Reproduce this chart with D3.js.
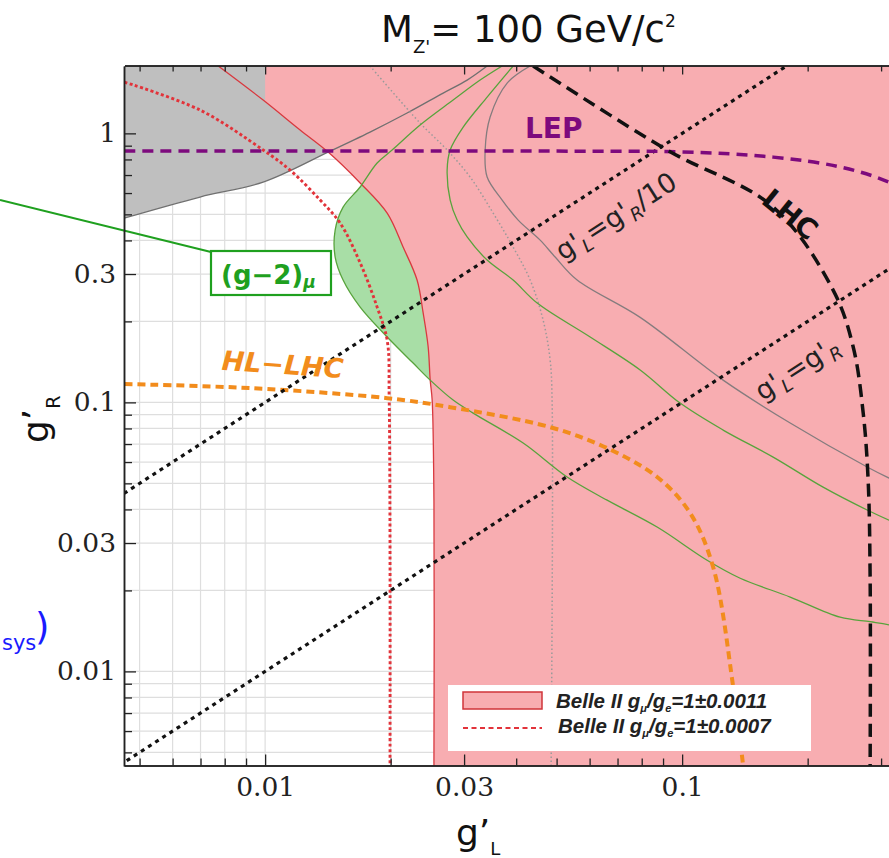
<!DOCTYPE html>
<html>
<head>
<meta charset="utf-8">
<script src="https://cdn.jsdelivr.net/npm/d3@7"></script>
<style>
  body { margin: 0; background: #fff; }
  svg { display: block; }
</style>
</head>
<body>
<script>
// values, points are [g'_L, g'_R]
const xDomain = [0.0046, 0.316];
const yDomain = [0.00445, 1.78];

const xTicks = [0.01, 0.03, 0.1];
const xTickLabels = ["0.01", "0.03", "0.1"];
const xMinor = [0.005, 0.006, 0.007, 0.008, 0.009, 0.02, 0.04, 0.05, 0.06, 0.07, 0.08, 0.09, 0.2, 0.3];
const yTicks = [0.01, 0.03, 0.1, 0.3, 1];
const yTickLabels = ["0.01", "0.03", "0.1", "0.3", "1"];
const yMinor = [0.005, 0.006, 0.007, 0.008, 0.009, 0.02, 0.04, 0.05, 0.06, 0.07, 0.08, 0.09,
                0.2, 0.4, 0.5, 0.6, 0.7, 0.8, 0.9];

// Belle II g_mu/g_e = 1 +- 0.0011 (edge of the pink region)
const belle11 = [[0.00772,1.78],[0.00989,1.33],[0.01213,1.029],[0.01416,0.852],[0.0169,0.654],
  [0.01962,0.505],[0.02142,0.378],[0.02314,0.285],[0.02393,0.215],[0.0246,0.161],[0.02488,0.121],
  [0.02515,0.102],[0.0254,0.043],[0.0254,0.00445]];
// Belle II g_mu/g_e = 1 +- 0.0007
const belle07 = [[0.0046,1.55],[0.00698,1.221],[0.00989,0.867],[0.01148,0.73],[0.01355,0.565],
  [0.01513,0.464],[0.0169,0.33],[0.01856,0.226],[0.01962,0.17],[0.01984,0.102],[0.01993,0.00445]];
// grey excluded region, lower edge
const greyEdge = [[0.00459,0.484],[0.00698,0.58],[0.00989,0.659],[0.01416,0.852],[0.01785,1.011],
  [0.0219,1.19],[0.02673,1.412],[0.03051,1.578],[0.03407,1.78]];
const greyCurve = [[0.04321,1.78],[0.03805,1.538],[0.03464,1.15],[0.0337,0.867],[0.03407,0.688],
  [0.03702,0.565],[0.04044,0.476],[0.04566,0.401],[0.0496,0.347],[0.056,0.285],[0.07931,0.207],
  [0.1254,0.121],[0.1816,0.0838],[0.2778,0.0575],[0.3135,0.0523],[0.4393,0.0415]];
const greyDotted = [[0.01785,1.78],[0.02353,1.092],[0.02732,0.867],[0.03102,0.688],[0.03523,0.505],
  [0.03933,0.378],[0.04321,0.285],[0.04642,0.202],[0.04824,0.144],[0.04877,0.102],[0.04851,0.00445]];
// (g-2)_mu band
const g2Outer = [[0.03702,1.78],[0.03278,1.578],[0.02824,1.33],[0.02353,1.074],[0.02016,0.867],
  [0.01856,0.776],[0.0169,0.632],[0.01538,0.532],[0.01472,0.437],[0.01472,0.347],[0.01538,0.285],
  [0.0169,0.226],[0.01962,0.175],[0.02264,0.14],[0.02488,0.121],[0.02824,0.102],[0.03154,0.0912],
  [0.04157,0.0706],[0.05299,0.0528],[0.06609,0.0433],[0.0871,0.0344],[0.1148,0.0259],[0.1378,0.0222],
  [0.1816,0.0189],[0.2393,0.0159],[0.2824,0.0153],[0.3135,0.0149],[0.4393,0.0131]];
const g2Inner = [[0.03933,1.78],[0.03407,1.364],[0.02985,1.055],[0.02778,0.867],[0.02732,0.73],
  [0.02778,0.565],[0.02887,0.476],[0.03051,0.412],[0.03407,0.338],[0.03933,0.285],[0.04491,0.234],
  [0.06018,0.175],[0.07931,0.132],[0.0989,0.0994],[0.1254,0.0789],[0.1653,0.0626],[0.2178,0.0484],
  [0.2778,0.0398],[0.3135,0.0365],[0.4393,0.0295]];
const lep = [[0.0046,0.859],[0.05,0.859],[0.1,0.853],[0.1653,0.816],[0.2393,0.75],[0.3135,0.659],[0.44,0.5]];
const lhc = [[0.04393,1.78],[0.09204,0.867],[0.1653,0.532],[0.2302,0.2615],[0.2571,0.161],
  [0.2718,0.0912],[0.2793,0.0514],[0.2824,0.0222],[0.2824,0.00445]];
const hlLhc = [[0.0046,0.117],[0.00921,0.113],[0.01962,0.1037],[0.02778,0.096],[0.04824,0.0809],
  [0.06609,0.0676],[0.0871,0.0528],[0.1045,0.0388],[0.1187,0.0244],[0.1326,0.00874],[0.1401,0.00445]];
const diagEqual = [[0.001,0.001],[1,1]];
const diagTenth = [[0.0001,0.001],[0.3,3]];

const W = 889, H = 858;
const x = d3.scaleLog().domain(xDomain).range([124.5, 890.5]);
const y = d3.scaleLog().domain(yDomain).range([766, 66]);
const [x0, x1] = x.range(), [y0, y1] = y.range();

const curve = d3.line().x(d => x(d[0])).y(d => y(d[1])).curve(d3.curveCatmullRom.alpha(0.5));
const straight = d3.line().x(d => x(d[0])).y(d => y(d[1]));

const svg = d3.select("body").append("svg").attr("width", W).attr("height", H);
const defs = svg.append("defs");
defs.append("clipPath").attr("id", "plotClip").append("rect")
  .attr("x", x0).attr("y", y1).attr("width", x1 - x0).attr("height", y0 - y1);
defs.append("clipPath").attr("id", "belleClip").append("rect")
  .attr("x", x(0.01)).attr("y", y1).attr("width", x1 - x(0.01)).attr("height", y0 - y1);

const plot = svg.append("g").attr("clip-path", "url(#plotClip)");

// grid
plot.append("g").selectAll("line").data(xTicks.concat(xMinor)).join("line")
  .attr("x1", d => x(d)).attr("x2", d => x(d)).attr("y1", y0).attr("y2", y1)
  .attr("stroke", "#dedede").attr("stroke-width", 1.2);
plot.append("g").selectAll("line").data(yTicks.concat(yMinor)).join("line")
  .attr("y1", d => y(d)).attr("y2", d => y(d)).attr("x1", x0).attr("x2", x1)
  .attr("stroke", "#dedede").attr("stroke-width", 1.2);

// filled regions
plot.append("path")
  .attr("d", curve(g2Outer) + "L" + curve(g2Inner.slice().reverse()).slice(1) + "Z")
  .attr("fill", "#a8dea6");
plot.append("path")
  .attr("d", curve(greyEdge) + `L${x(xDomain[0])},${y(yDomain[1])}Z`)
  .attr("fill", "#bfbfbf");
plot.append("path")
  .attr("clip-path", "url(#belleClip)")
  .attr("d", curve(belle11) + `L${x(xDomain[1])},${y(yDomain[0])}L${x(xDomain[1])},${y(yDomain[1])}Z`)
  .attr("fill", "#f8adb1");

// lines
const drawLine = (data, gen, color, width, dash) => plot.append("path")
  .attr("d", gen(data)).attr("fill", "none").attr("stroke", color)
  .attr("stroke-width", width).attr("stroke-dasharray", dash || null);

drawLine(belle11, curve, "#d8393f", 1.3);
drawLine(greyEdge, curve, "#707070", 1.3);
drawLine(greyCurve, curve, "#857c7e", 1.3);
drawLine(greyDotted, curve, "#9a9a9a", 1.5, "1.5,2.5");
drawLine(g2Outer, curve, "#58a33c", 1.3);
drawLine(g2Inner, curve, "#58a33c", 1.3);
drawLine(belle07, curve, "#e2333a", 2.9, "3,2.5");
drawLine(hlLhc, curve, "#f28c1c", 4, "8,5");
drawLine(diagEqual, straight, "#111", 3.2, "4,4.5");
drawLine(diagTenth, straight, "#111", 3.2, "4,4.5");
drawLine(lep, curve, "#7d0a7d", 3.5, "11,7");
drawLine(lhc, curve, "#111", 3.5, "13,7");

// text with sub/superscripts
function rich(sel, parts) {
  let shift = 0;
  parts.forEach(p => {
    const s = p.shift || 0;
    const t = sel.append("tspan").text(p.t).attr("dy", s - shift);
    if (p.size) t.attr("font-size", p.size);
    if (p.italic) t.attr("font-style", "italic");
    shift = s;
  });
  return sel;
}

// (g-2) box with leader line, drawn before the labels
svg.append("line").attr("x1", 0).attr("y1", 200).attr("x2", 211).attr("y2", 252)
  .attr("stroke", "#1fa01f").attr("stroke-width", 2);
svg.append("rect").attr("x", 211).attr("y", 251).attr("width", 120).attr("height", 44)
  .attr("fill", "#fff").attr("stroke", "#1fa01f").attr("stroke-width", 2.2);

const labels = svg.append("g").attr("font-family", "DejaVu Sans");

rich(labels.append("text").attr("x", 221).attr("y", 284)
  .attr("font-size", 26).attr("font-weight", "bold").attr("fill", "#1fa01f"),
  [{t: "(g\u22122)"}, {t: "\u03bc", size: 17, shift: 4, italic: true}]);

labels.append("text").attr("x", 525).attr("y", 138)
  .attr("font-size", 28).attr("font-weight", "bold").attr("fill", "#7d0a7d").text("LEP");

labels.append("text").attr("transform", "translate(784,222) rotate(39)")
  .attr("text-anchor", "middle").attr("font-size", 28).attr("font-weight", "bold")
  .attr("fill", "#111").text("LHC");

rich(labels.append("text").attr("transform", "translate(621,224) rotate(-32.8)")
  .attr("text-anchor", "middle").attr("font-size", 27).attr("fill", "#222"),
  [{t: "g'"}, {t: "L", size: 18, shift: 6, italic: true}, {t: "=g'"},
   {t: "R", size: 18, shift: 6, italic: true}, {t: "/10"}]);

rich(labels.append("text").attr("transform", "translate(802,376) rotate(-32.8)")
  .attr("text-anchor", "middle").attr("font-size", 27).attr("fill", "#222"),
  [{t: "g'"}, {t: "L", size: 18, shift: 6, italic: true}, {t: "=g'"},
   {t: "R", size: 18, shift: 6, italic: true}]);

labels.append("text").attr("transform", "translate(282,374) rotate(4)")
  .attr("text-anchor", "middle").attr("font-size", 27).attr("font-weight", "bold")
  .attr("font-style", "italic").attr("fill", "#f28c1c").text("HL\u2212LHC");

// cut-off text from the neighbouring panel
svg.append("text").attr("x", 2).attr("y", 650).attr("font-family", "DejaVu Sans")
  .attr("font-size", 21).attr("fill", "#1a1aff").text("sys");
svg.append("text").attr("x", 35).attr("y", 640).attr("font-family", "DejaVu Sans")
  .attr("font-size", 37).attr("fill", "#1a1aff").text(")");

// legend
const leg = svg.append("g");
leg.append("rect").attr("x", 448).attr("y", 685).attr("width", 363).attr("height", 66).attr("fill", "#fff");
leg.append("rect").attr("x", 463).attr("y", 692).attr("width", 79).attr("height", 17)
  .attr("fill", "#f8adb1").attr("stroke", "#d0343a").attr("stroke-width", 1.5);
leg.append("line").attr("x1", 463).attr("x2", 542).attr("y1", 728).attr("y2", 728)
  .attr("stroke", "#e2333a").attr("stroke-width", 2).attr("stroke-dasharray", "5,3.5");
const legendLabels = ["1\u00b10.0011", "1\u00b10.0007"];
legendLabels.forEach((v, i) => {
  rich(leg.append("text").attr("x", 556 + 2 * i).attr("y", 708 + 25 * i)
    .attr("font-family", "Liberation Sans").attr("font-size", 20.5)
    .attr("font-weight", "bold").attr("font-style", "italic").attr("fill", "#222"),
    [{t: "Belle II g"}, {t: "\u03bc", size: 11, shift: 4}, {t: "/g"},
     {t: "e", size: 11, shift: 4}, {t: "=" + v}]);
});

// axes
const styleAxis = g => {
  g.select(".domain").attr("stroke", "#222").attr("stroke-width", 1.5);
  g.selectAll(".tick line").attr("stroke", "#222").attr("stroke-width", 1.3);
  g.selectAll("text").style("font-family", "'DejaVu Serif', serif").attr("font-size", 26.5).attr("fill", "#222");
};
svg.append("g").attr("transform", `translate(${x0 - 0.5},0)`)
  .call(d3.axisLeft(y).tickValues(yTicks).tickSize(-12).tickSizeOuter(0).tickPadding(8)
    .tickFormat((d, i) => yTickLabels[i])).call(styleAxis);
svg.append("g").attr("transform", `translate(${x0 - 0.5},0)`)
  .call(d3.axisLeft(y).tickValues(yMinor).tickSize(-8).tickSizeOuter(0).tickFormat(""))
  .call(styleAxis);
svg.append("g").attr("transform", `translate(0,${y0 - 0.5})`)
  .call(d3.axisBottom(x).tickValues(xTicks).tickSize(-11).tickSizeOuter(0).tickPadding(12)
    .tickFormat((d, i) => xTickLabels[i])).call(styleAxis);
svg.append("g").attr("transform", `translate(0,${y0 - 0.5})`)
  .call(d3.axisBottom(x).tickValues(xMinor).tickSize(-7).tickSizeOuter(0).tickFormat(""))
  .call(styleAxis);
svg.append("g").attr("transform", `translate(0,${y1 - 0.5})`)
  .call(d3.axisTop(x).tickValues(xTicks).tickSize(-9).tickSizeOuter(0).tickFormat(""))
  .call(styleAxis);
svg.append("g").attr("transform", `translate(0,${y1 - 0.5})`)
  .call(d3.axisTop(x).tickValues(xMinor).tickSize(-6).tickSizeOuter(0).tickFormat(""))
  .call(styleAxis);

// titles
rich(svg.append("text").attr("x", 381).attr("y", 42).attr("font-family", "DejaVu Sans")
  .attr("font-size", 37).attr("fill", "#111"),
  [{t: "M"}, {t: "Z'", size: 18, shift: 11}, {t: "= 100 GeV/c"}, {t: "2", size: 17, shift: -15}]);

rich(svg.append("text").attr("x", 456).attr("y", 845).attr("font-family", "DejaVu Sans")
  .attr("font-size", 36).attr("fill", "#111"),
  [{t: "g\u2019"}, {t: "L", size: 18, shift: 10}]);

rich(svg.append("text").attr("transform", "translate(48,443) rotate(-90)")
  .attr("font-family", "DejaVu Sans").attr("font-size", 36).attr("fill", "#111"),
  [{t: "g\u2019"}, {t: "R", size: 19, shift: 12}]);
</script>
</body>
</html>
